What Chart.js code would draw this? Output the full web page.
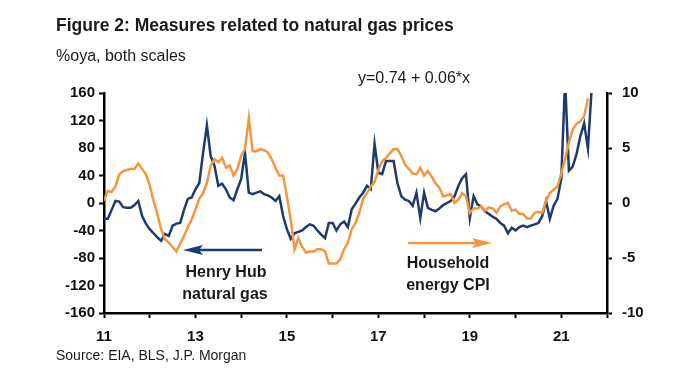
<!DOCTYPE html>
<html>
<head>
<meta charset="utf-8">
<script src="https://cdn.jsdelivr.net/npm/chart.js@4"></script>
<style>
  html, body { margin: 0; padding: 0; background: #fff; }
  #wrap { width: 680px; height: 383px; position: relative; }
</style>
</head>
<body>
<div id="wrap"><canvas id="gasChart" width="680" height="383"></canvas></div>
<script>
"use strict";

// monthly %oya, Jan 2011 onwards
const startYear = 2011;
const yearTicks = ["11", "13", "15", "17", "19", "21"];

// Henry Hub natural gas, left scale (Jan 2011 - Sep 2021)
const henryHub = [
  -23, -23, -10, 3, 2, -6, -7, -7, -3, 3, -19, -30,
  -38, -44, -50, -55, -45, -48, -33, -30, -29, -10, 6, 8,
  20, 29, 73, 113, 68, 54, 25, 28, 20, 8, 4, 20,
  35, 73, 15, 13, 15, 17, 13, 11, 8, 3, 10, -19,
  -38, -52, -44, -42, -40, -35, -31, -33, -40, -46, -51, -29,
  -29, -40, -31, -27, -35, -9, -1, 8, 15, 25, 20, 86,
  44, 42, 61, 61, 61, 29, 10, 5, 3, -4, 15, -22,
  15, -7, -10, -12, -8, -3, 0, 3, 10, 25, 36, 42,
  -22, 10, -2, -5, -12, -16, -20, -23, -29, -33, -44, -36,
  -40, -35, -33, -35, -33, -31, -29, -19, 3, -23, -4, 6,
  35, 180, 47, 53, 71, 97, 116, 79, 169
];

// Household energy CPI, right scale (Jan 2011 - Aug 2021)
const energyCpi = [
  0.2, 1.1, 1.0, 1.5, 2.6, 2.9, 3.0, 3.1, 3.1, 3.6, 3.1, 2.6,
  1.6, 0.2, -1.0, -2.4, -3.3, -3.6, -4.0, -4.4, -3.7, -3.0, -2.2, -1.5,
  -0.6, 0.4, 0.9, 1.8, 3.4, 4.0, 3.7, 4.1, 3.2, 3.4, 2.5, 3.1,
  4.3, 4.9, 7.7, 4.7, 4.7, 4.9, 4.8, 4.6, 4.0, 3.2, 2.5, 2.5,
  0.6, -1.5, -4.2, -3.2, -4.0, -4.5, -4.4, -4.4, -4.2, -4.2, -4.4, -5.5,
  -5.5, -5.5, -5.1, -4.2, -3.6, -2.4, -1.8, -0.9, 0.4, 0.9, 1.5, 1.9,
  3.0, 3.8, 4.1, 4.5, 4.9, 4.9, 4.3, 3.5, 3.1, 2.7, 2.6, 3.2,
  2.5, 2.9, 2.4, 1.8, 1.4, 0.6, 0.7, 0.8, 0, 0.3, 0.9, 0.6,
  -0.9, -0.5, -0.5, -0.3, -0.7, -0.4, -0.5, -0.9, -0.3, -0.1, 0, -0.7,
  -0.6, -1.0, -1.0, -1.4, -1.4, -0.9, -0.8, -0.9, 0.2, 0.9, 1.2, 1.5,
  2.7, 4.0, 5.5, 6.7, 7.2, 7.4, 7.9, 9.5
];

const leftTicks = [-160, -120, -80, -40, 0, 40, 80, 120, 160];
const rightTicks = [-10, -5, 0, 5, 10];

const NAVY = "#1f3a6e";
const ORANGE = "#f5963f";
const FONT = "'Liberation Sans', Arial, sans-serif";

const toPoints = (arr) => arr.map((v, i) => ({ x: startYear + i / 12, y: v }));

// texts and arrows around the plot
const decorations = {
  id: "decorations",
  afterDraw(chart) {
    const ctx = chart.ctx;
    ctx.save();
    ctx.fillStyle = "#1a1a1a";
    ctx.textBaseline = "middle";
    ctx.textAlign = "left";

    ctx.font = "bold 17.5px " + FONT;
    ctx.fillText("Figure 2: Measures related to natural gas prices", 56, 26);
    ctx.font = "16px " + FONT;
    ctx.fillText("%oya, both scales", 56, 57);
    ctx.fillText("y=0.74 + 0.06*x", 358, 79);
    ctx.font = "14px " + FONT;
    ctx.fillText("Source: EIA, BLS, J.P. Morgan", 56, 356);

    // annotation labels
    ctx.font = "bold 16px " + FONT;
    ctx.textAlign = "center";
    ctx.fillText("Henry Hub", 226, 273);
    ctx.fillText("natural gas", 225, 295);
    ctx.fillText("Household", 448, 264);
    ctx.fillText("energy CPI", 448, 286);

    const arrow = (x1, x2, y, color) => {
      const dir = Math.sign(x2 - x1);
      ctx.strokeStyle = color;
      ctx.fillStyle = color;
      ctx.lineWidth = 2.5;
      ctx.beginPath();
      ctx.moveTo(x1, y);
      ctx.lineTo(x2 - dir * 14, y);
      ctx.stroke();
      ctx.beginPath();
      ctx.moveTo(x2, y);
      ctx.lineTo(x2 - dir * 20, y - 5);
      ctx.lineTo(x2 - dir * 16, y);
      ctx.lineTo(x2 - dir * 20, y + 5);
      ctx.closePath();
      ctx.fill();
    };
    arrow(262, 183, 250, NAVY);
    arrow(408, 492, 243, ORANGE);
    ctx.restore();
  }
};

const axisGrid = {
  drawOnChartArea: false,
  drawTicks: true,
  tickLength: 5,
  tickWidth: 2,
  tickColor: "#000"
};
const axisBorder = { display: true, color: "#000", width: 2.5 };
const tickFont = { family: FONT, size: 15, weight: "bold" };

const ctx = document.getElementById("gasChart").getContext("2d");
new Chart(ctx, {
  type: "line",
  data: {
    datasets: [
      {
        label: "Household energy CPI",
        data: toPoints(energyCpi),
        yAxisID: "yRight",
        borderColor: ORANGE,
        borderWidth: 2.5,
        pointRadius: 0,
        tension: 0
      },
      {
        label: "Henry Hub natural gas",
        data: toPoints(henryHub),
        yAxisID: "yLeft",
        borderColor: NAVY,
        borderWidth: 2.5,
        pointRadius: 0,
        tension: 0
      }
    ]
  },
  options: {
    responsive: false,
    animation: false,
    layout: { padding: { top: 93, left: 0, right: 0, bottom: 0 } },
    plugins: {
      legend: { display: false },
      tooltip: { enabled: false }
    },
    scales: {
      x: {
        type: "linear",
        min: 2011,
        max: 2022,
        grid: axisGrid,
        border: axisBorder,
        afterFit: (s) => { s.height = 70; },
        afterBuildTicks: (s) => {
          s.ticks = [];
          for (let y = 2011; y <= 2022; y++) s.ticks.push({ value: y });
        },
        ticks: {
          autoSkip: false,
          maxRotation: 0,
          padding: 10,
          color: "#111",
          font: tickFont,
          callback: (v) => {
            const lbl = String(v - 2000);
            return yearTicks.includes(lbl) ? lbl : "";
          }
        }
      },
      yLeft: {
        position: "left",
        min: -160,
        max: 160,
        grid: axisGrid,
        border: axisBorder,
        afterFit: (s) => { s.width = 104; },
        afterBuildTicks: (s) => { s.ticks = leftTicks.map((v) => ({ value: v })); },
        ticks: { padding: 4, color: "#111", font: tickFont }
      },
      yRight: {
        position: "right",
        min: -10,
        max: 10,
        grid: axisGrid,
        border: axisBorder,
        afterFit: (s) => { s.width = 73; },
        afterBuildTicks: (s) => { s.ticks = rightTicks.map((v) => ({ value: v })); },
        ticks: { padding: 10, color: "#111", font: tickFont }
      }
    }
  },
  plugins: [decorations]
});
</script>
</body>
</html>
